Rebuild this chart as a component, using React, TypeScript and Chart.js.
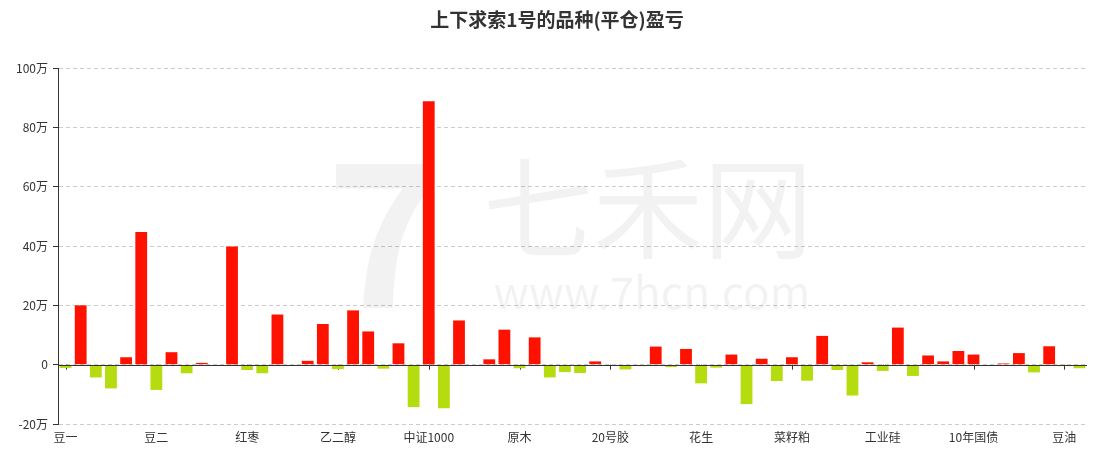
import React, { useEffect, useRef } from "react";
import { Chart, registerables } from "chart.js";

Chart.register(...registerables);

const TITLE = "上下求索1号的品种(平仓)盈亏";

// 68 categories; only every 6th name is readable in the reference
const categories: string[] = [
  "豆一", "", "", "", "", "",
  "豆二", "", "", "", "", "",
  "红枣", "", "", "", "", "",
  "乙二醇", "", "", "", "", "",
  "中证1000", "", "", "", "", "",
  "原木", "", "", "", "", "",
  "20号胶", "", "", "", "", "",
  "花生", "", "", "", "", "",
  "菜籽粕", "", "", "", "", "",
  "工业硅", "", "", "", "", "",
  "10年国债", "", "", "", "", "",
  "豆油", "",
];

// profit / loss in 万 (10k)
const pnl: number[] = [
  -1.1, 20.0, -4.3, -8.0, 2.5, 44.7,
  -8.5, 4.2, -2.9, 0.6, -0.4, 39.8,
  -1.8, -2.9, 16.9, -0.3, 1.3, 13.7,
  -1.5, 18.3, 11.2, -1.35, 7.2, -14.3,
  88.8, -14.7, 14.9, -0.2, 1.8, 11.8,
  -1.2, 9.2, -4.3, -2.5, -2.8, 1.1,
  0, -1.6, -0.5, 6.1, -0.8, 5.3,
  -6.3, -1.0, 3.4, -13.3, 2.0, -5.5,
  2.5, -5.4, 9.7, -1.8, -10.4, 0.8,
  -2.1, 12.5, -3.8, 3.1, 1.1, 4.6,
  3.4, 0, 0.4, 3.9, -2.6, 6.2,
  -0.5, -1.2,
];

const yTicks: number[] = [-20, 0, 20, 40, 60, 80, 100];

const RED = "#ff1100";
const GREEN = "#b4dc0e";
const FONT = '"Noto Sans CJK SC", "Noto Sans", sans-serif';

const decorPlugin = {
  id: "decor",
  beforeDatasetsDraw(chart: any) {
    const { ctx, scales } = chart;
    const xs = scales.x;
    const ys = scales.y;
    ctx.save();
    // watermark
    ctx.fillStyle = "rgba(0,0,0,0.05)";
    ctx.textAlign = "center";
    ctx.textBaseline = "middle";
    ctx.font = `bold 200px ${FONT}`;
    ctx.fillText("7", 385, 232);
    ctx.font = `110px ${FONT}`;
    ctx.fillText("七禾网", 648, 208);
    ctx.font = `44px ${FONT}`;
    ctx.fillText("www.7hcn.com", 652, 292);
    // tick marks on the zero line at labelled categories
    const y0 = ys.getPixelForValue(0);
    ctx.strokeStyle = "#333";
    ctx.lineWidth = 1;
    categories.forEach((c, i) => {
      if (i % 6 !== 0) return;
      const x = Math.round(xs.getPixelForValue(i)) + 0.5;
      ctx.beginPath();
      ctx.moveTo(x, y0);
      ctx.lineTo(x, y0 + 5);
      ctx.stroke();
    });
    ctx.restore();
  },
  afterDatasetsDraw(chart: any) {
    const { ctx, scales, chartArea } = chart;
    const y0 = Math.round(scales.y.getPixelForValue(0)) + 0.5;
    ctx.save();
    ctx.strokeStyle = "#333";
    ctx.lineWidth = 1;
    ctx.beginPath();
    ctx.moveTo(chartArea.left, y0);
    ctx.lineTo(chartArea.right, y0);
    ctx.stroke();
    ctx.restore();
  },
  afterDraw(chart: any) {
    const { ctx } = chart;
    ctx.save();
    ctx.fillStyle = "#333";
    ctx.font = `bold 19px ${FONT}`;
    ctx.textAlign = "center";
    ctx.textBaseline = "middle";
    ctx.fillText(TITLE, 557, 20);
    ctx.restore();
  },
};

export default function App() {
  const ref = useRef<HTMLCanvasElement | null>(null);

  useEffect(() => {
    if (!ref.current) return;
    const chart = new Chart(ref.current, {
      type: "bar",
      data: {
        labels: categories,
        datasets: [
          {
            data: pnl,
            backgroundColor: pnl.map((v) => (v >= 0 ? RED : GREEN)),
            borderWidth: 0,
            barPercentage: 0.78,
            categoryPercentage: 1,
          },
        ],
      },
      options: {
        responsive: false,
        animation: false,
        devicePixelRatio: 1,
        layout: { padding: { top: 68, right: 9, left: 0, bottom: 0 } },
        plugins: {
          legend: { display: false },
          title: { display: false },
          tooltip: { enabled: false },
        },
        scales: {
          x: {
            type: "category",
            grid: { display: false, drawTicks: false },
            border: { display: false },
            ticks: {
              autoSkip: false,
              maxRotation: 0,
              minRotation: 0,
              padding: 6,
              color: "#333",
              font: { family: FONT, size: 12 },
              callback: (_v: any, i: number) => (i % 6 === 0 ? categories[i] : ""),
            },
            afterFit: (s: any) => {
              s.height = 30;
            },
          },
          y: {
            min: -20,
            max: 100,
            afterBuildTicks: (s: any) => {
              s.ticks = yTicks.map((v) => ({ value: v }));
            },
            grid: {
              color: "#cccccc",
              lineWidth: 1,
              tickLength: 5,
              tickColor: "#333",
              tickBorderDash: [],
            },
            border: { display: true, color: "#333", width: 1, dash: [4, 3] },
            ticks: {
              padding: 5,
              color: "#333",
              font: { family: FONT, size: 12 },
              callback: (v: any) => (v === 0 ? "0" : `${v}万`),
            },
            afterFit: (s: any) => {
              s.width = 58;
            },
          },
        },
      },
      plugins: [decorPlugin],
    });
    return () => chart.destroy();
  }, []);

  return (
    <div style={{ position: "absolute", left: 0, top: 0, width: 1096, height: 454, background: "#fff" }}>
      <canvas ref={ref} width={1096} height={454} style={{ display: "block" }} />
    </div>
  );
}
